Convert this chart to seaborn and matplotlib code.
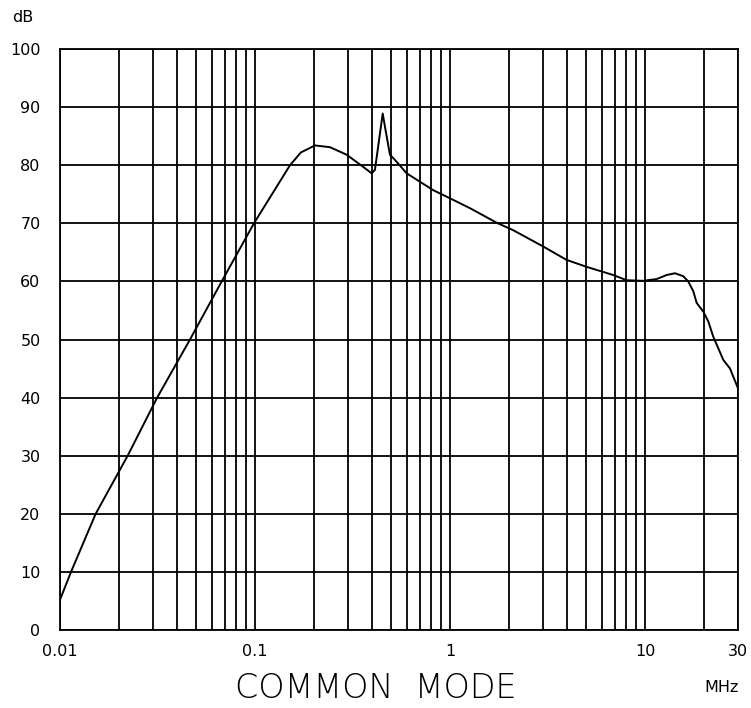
import matplotlib
matplotlib.use("Agg")
import matplotlib.pyplot as plt
import seaborn as sns
import pandas as pd
import numpy as np

# Data (frequency in MHz, level in dB)
freq_mhz = [0.01, 0.01139, 0.01524, 0.02224, 0.0315, 0.04642, 0.0675,
            0.0988, 0.1512, 0.172, 0.2031, 0.2425, 0.2953, 0.3592,
            0.3966, 0.4123, 0.4519, 0.4642, 0.4922, 0.5224, 0.5998, 0.8208,
            1.0, 1.267, 1.735, 2.113, 3.009, 3.963, 5.023, 6.873, 8.05, 9.80,
            11.48, 12.92, 14.26, 15.71, 16.67, 17.70, 18.41, 19.91, 21.13,
            22.39, 25.21, 27.30, 30.0]
level_db = [5.2, 10.0, 20.0, 30.0, 40.0, 50.0, 60.0,
            70.0, 80.0, 82.2, 83.4, 83.1, 81.8, 79.7,
            78.6, 79.2, 88.9, 86.6, 81.8, 80.9, 78.6, 75.7,
            74.3, 72.6, 70.1, 68.8, 66.0, 63.7, 62.5, 61.1, 60.2, 60.1,
            60.4, 61.1, 61.4, 60.9, 60.0, 58.3, 56.3, 54.8, 53.1,
            50.5, 46.5, 45.0, 41.6]

major_x = [0.01, 0.1, 1, 10, 30]
major_x_labels = ["0.01", "0.1", "1", "10", "30"]
minor_x = [0.02, 0.03, 0.04, 0.05, 0.06, 0.07, 0.08, 0.09,
           0.2, 0.3, 0.4, 0.5, 0.6, 0.7, 0.8, 0.9,
           2, 3, 4, 5, 6, 7, 8, 9, 20]
y_ticks = [0, 10, 20, 30, 40, 50, 60, 70, 80, 90, 100]

sns.set_style("white")
plt.rcParams['font.family'] = ['DejaVu Sans']
plt.rcParams['text.color'] = 'black'
plt.rcParams['xtick.color'] = 'black'
plt.rcParams['ytick.color'] = 'black'

fig = plt.figure(figsize=(7.51, 7.08), dpi=100)
ax = fig.add_axes([60/751, 1 - 630/708, (738-60)/751, (630-49)/708])

df = pd.DataFrame({"MHz": freq_mhz, "dB": level_db})
sns.lineplot(data=df, x="MHz", y="dB", ax=ax, color="black", linewidth=1.4)

ax.set_xscale("log")
ax.set_xlim(0.01, 30)
ax.set_ylim(0, 100)
ax.set_xticks(major_x)
ax.set_xticklabels(major_x_labels)
ax.set_xticks(minor_x, minor=True)
ax.set_xticklabels([], minor=True)
ax.set_yticks(y_ticks)
ax.set_yticklabels([str(v) for v in y_ticks])
ax.grid(True, which="both", color="black", linewidth=1.3)
ax.set_axisbelow(True)
ax.tick_params(which="both", length=0)
ax.tick_params(axis="x", pad=10, labelsize=11.5, labelcolor="black")
ax.tick_params(axis="y", pad=14, labelsize=11.5, labelcolor="black")
for s in ax.spines.values():
    s.set_color("black")
    s.set_linewidth(1.3)
ax.set_xlabel("")
ax.set_ylabel("")

fig.text(12/751, 1 - 18/708, "dB", fontsize=11.5, ha="left", va="center", color="black")
fig.text(722/751, 1 - 688/708, "MHz", fontsize=11.5, ha="center", va="center", color="black")
fig.text(376/751, 1 - 689/708, "COMMON  MODE", fontsize=24, ha="center", va="center",
         fontweight="light", family="DejaVu Sans", color="black")

fig.savefig("out.png", dpi=100, facecolor="white")
